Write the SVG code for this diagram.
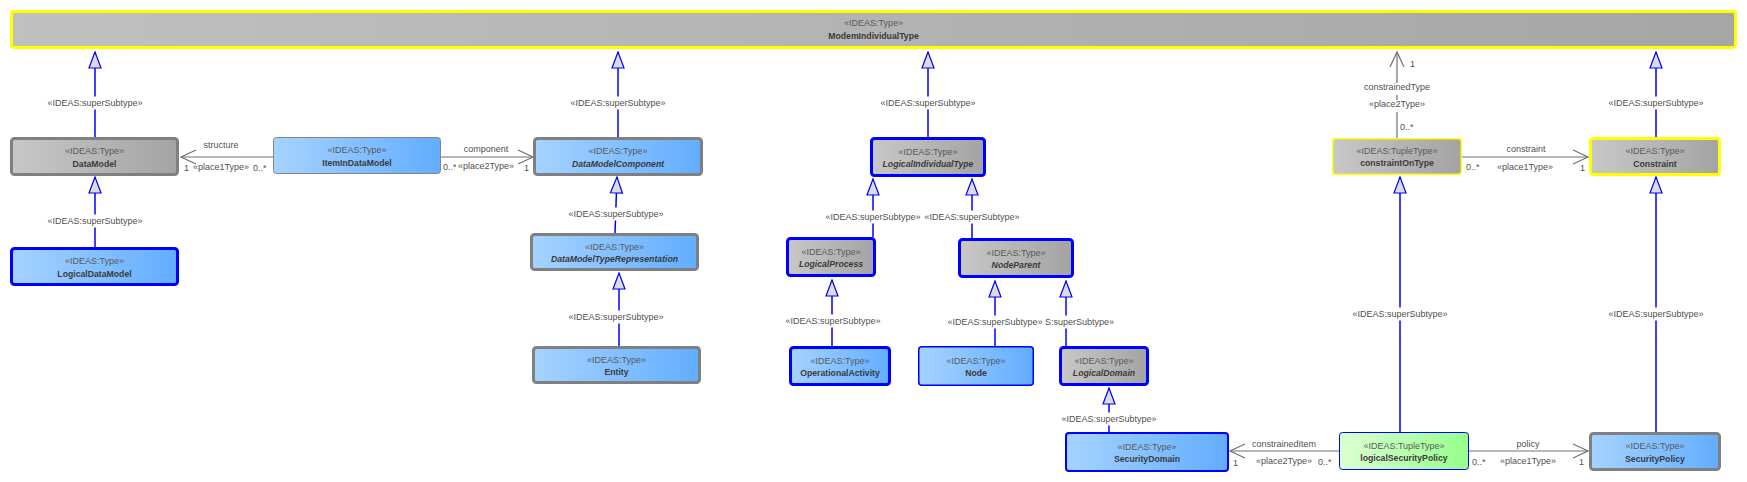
<svg xmlns="http://www.w3.org/2000/svg" width="1747" height="482" viewBox="0 0 1747 482">
<defs>
<linearGradient id="gBlue" x1="0" y1="0" x2="1" y2="0"><stop offset="0" stop-color="#a6d3ff"/><stop offset="1" stop-color="#62adff"/></linearGradient>
<linearGradient id="gGrey" x1="0" y1="0" x2="1" y2="0"><stop offset="0" stop-color="#c8c8c8"/><stop offset="1" stop-color="#a3a3a3"/></linearGradient>
<linearGradient id="gTop" x1="0" y1="0" x2="1" y2="0"><stop offset="0" stop-color="#c0c0c0"/><stop offset="1" stop-color="#a6a6a6"/></linearGradient>
<linearGradient id="gGreen" x1="0" y1="0" x2="1" y2="0"><stop offset="0" stop-color="#dcffd4"/><stop offset="1" stop-color="#96ff8c"/></linearGradient>
<marker id="gen" viewBox="-17 -7 18 14" refX="0" refY="0" markerWidth="18" markerHeight="14" orient="auto" markerUnits="userSpaceOnUse"><path d="M0,0 L-16,-6 L-16,6 Z" fill="#dcdcdc" stroke="#0000ff" stroke-width="1.2"/></marker>
<marker id="open" viewBox="-17 -8 19 16" refX="0" refY="0" markerWidth="19" markerHeight="16" orient="auto" markerUnits="userSpaceOnUse"><path d="M-15,-7 L0,0 L-15,7" fill="none" stroke="#707070" stroke-width="1.2"/></marker>
</defs>
<style>
text{font-family:"Liberation Sans",Arial,sans-serif;}
.st{font-size:9px;fill:#5a5a5a;text-anchor:middle;}
.nm{font-size:8.7px;font-weight:bold;fill:#3a3a3a;text-anchor:middle;}
.it{font-style:italic;}
.lb{font-size:9px;fill:#505050;}
.mid{text-anchor:middle;}
.end{text-anchor:end;}
.bg{fill:#ffffff;}
.gen{stroke:#0000ff;stroke-width:1.5;fill:none;marker-end:url(#gen);}
.asc{stroke:#707070;stroke-width:1.2;fill:none;marker-end:url(#open);}
.blue3{fill:url(#gBlue);stroke:#0000ff;stroke-width:3;}
.grey3b{fill:url(#gGrey);stroke:#0000ff;stroke-width:3;}
.bluegrey3{fill:url(#gBlue);stroke:#808080;stroke-width:3;}
.greygrey3{fill:url(#gGrey);stroke:#808080;stroke-width:3;}
</style>
<rect width="1747" height="482" fill="#ffffff"/>

<g id="connectors">
<line class="gen" x1="95" y1="137" x2="95" y2="52"/>
<line class="gen" x1="95" y1="247" x2="95" y2="177"/>
<line class="gen" x1="618" y1="137" x2="618" y2="52"/>
<line class="gen" x1="615" y1="233" x2="617" y2="177"/>
<line class="gen" x1="619" y1="346" x2="619" y2="273"/>
<line class="gen" x1="928" y1="137" x2="928" y2="52"/>
<line class="gen" x1="873" y1="237" x2="873" y2="179"/>
<line class="gen" x1="972" y1="238" x2="972" y2="179"/>
<line class="gen" x1="832" y1="346" x2="832" y2="280"/>
<line class="gen" x1="995" y1="346" x2="995" y2="281"/>
<line class="gen" x1="1066" y1="346" x2="1066" y2="281"/>
<line class="gen" x1="1109" y1="432" x2="1109" y2="388"/>
<line class="gen" x1="1656" y1="137" x2="1656" y2="52"/>
<line class="gen" x1="1400" y1="432" x2="1400" y2="177"/>
<line class="gen" x1="1656" y1="432" x2="1656" y2="177"/>
<line class="asc" x1="273" y1="157" x2="181" y2="157"/>
<line class="asc" x1="441" y1="157" x2="533" y2="157"/>
<line class="asc" x1="1397" y1="138" x2="1397" y2="52"/>
<line class="asc" x1="1462" y1="157" x2="1588" y2="157"/>
<line class="asc" x1="1339" y1="451" x2="1230" y2="451"/>
<line class="asc" x1="1469" y1="451" x2="1588" y2="451"/>

<g id="labels">
<rect class="bg" x="46" y="96.5" width="98" height="13"/><text class="lb mid" x="95" y="106">«IDEAS:superSubtype»</text>
<rect class="bg" x="46" y="214.5" width="98" height="13"/><text class="lb mid" x="95" y="224">«IDEAS:superSubtype»</text>
<rect class="bg" x="569" y="96.5" width="98" height="13"/><text class="lb mid" x="618" y="106">«IDEAS:superSubtype»</text>
<rect class="bg" x="567" y="207.5" width="98" height="13"/><text class="lb mid" x="616" y="217">«IDEAS:superSubtype»</text>
<rect class="bg" x="567" y="310.5" width="98" height="13"/><text class="lb mid" x="616" y="320">«IDEAS:superSubtype»</text>
<rect class="bg" x="879" y="96.5" width="98" height="13"/><text class="lb mid" x="928" y="106">«IDEAS:superSubtype»</text>
<rect class="bg" x="824" y="210.5" width="98" height="13"/><text class="lb mid" x="873" y="220">«IDEAS:superSubtype»</text>
<rect class="bg" x="923" y="210.5" width="98" height="13"/><text class="lb mid" x="972" y="220">«IDEAS:superSubtype»</text>
<rect class="bg" x="784" y="314.5" width="98" height="13"/><text class="lb mid" x="833" y="324">«IDEAS:superSubtype»</text>
<rect class="bg" x="1044" y="315.5" width="71" height="13"/><text class="lb end" x="1114" y="325">S:superSubtype»</text>
<rect class="bg" x="946" y="315.5" width="98" height="13"/><text class="lb mid" x="995" y="325">«IDEAS:superSubtype»</text>
<rect class="bg" x="1060" y="412.5" width="98" height="13"/><text class="lb mid" x="1109" y="422">«IDEAS:superSubtype»</text>
<rect class="bg" x="1607" y="96.5" width="98" height="13"/><text class="lb mid" x="1656" y="106">«IDEAS:superSubtype»</text>
<rect class="bg" x="1351" y="307.5" width="98" height="13"/><text class="lb mid" x="1400" y="317">«IDEAS:superSubtype»</text>
<rect class="bg" x="1607" y="307.5" width="98" height="13"/><text class="lb mid" x="1656" y="317">«IDEAS:superSubtype»</text>

<text class="lb mid" x="221" y="148">structure</text>
<text class="lb" x="184" y="171">1</text>
<text class="lb mid" x="221" y="170">«place1Type»</text>
<text class="lb" x="253" y="171">0..*</text>

<text class="lb mid" x="486" y="152">component</text>
<text class="lb" x="443" y="170">0..*</text>
<rect class="bg" x="456" y="162" width="60" height="11"/>
<text class="lb mid" x="486" y="169">«place2Type»</text>
<text class="lb" x="524" y="171">1</text>

<text class="lb" x="1410" y="67">1</text>
<rect class="bg" x="1361" y="83" width="72" height="12"/><text class="lb mid" x="1397" y="90">constrainedType</text>
<rect class="bg" x="1369" y="100" width="56" height="12"/><text class="lb mid" x="1397" y="107">«place2Type»</text>
<text class="lb" x="1400" y="130">0..*</text>

<text class="lb mid" x="1526" y="152">constraint</text>
<text class="lb" x="1466" y="170">0..*</text>
<text class="lb mid" x="1525" y="170">«place1Type»</text>
<text class="lb" x="1580" y="171">1</text>

<text class="lb mid" x="1284" y="447">constrainedItem</text>
<text class="lb" x="1233" y="466">1</text>
<text class="lb mid" x="1284" y="464">«place2Type»</text>
<text class="lb" x="1318" y="465">0..*</text>

<text class="lb mid" x="1528" y="447">policy</text>
<text class="lb" x="1472" y="465">0..*</text>
<text class="lb mid" x="1528" y="464">«place1Type»</text>
<text class="lb" x="1579" y="465">1</text>
</g>
</g>

<g id="ModemIndividualType">
<rect x="11.5" y="11.5" width="1724" height="36" rx="3" fill="url(#gTop)" stroke="#ffff00" stroke-width="3"/>
<text class="st" x="873.5" y="26">«IDEAS:Type»</text>
<text class="nm" x="873.5" y="39">ModemIndividualType</text>
</g>
<g id="DataModel">
<rect class="greygrey3" x="11.5" y="138.5" width="166" height="36" rx="3"/>
<text class="st" x="94.5" y="154">«IDEAS:Type»</text>
<text class="nm" x="94.5" y="166.5">DataModel</text>
</g>
<g id="ItemInDataModel">
<rect x="273.5" y="137.5" width="167" height="36" rx="3" fill="url(#gBlue)" stroke="#858585" stroke-width="1"/>
<text class="st" x="357" y="153">«IDEAS:Type»</text>
<text class="nm" x="357" y="165.5">ItemInDataModel</text>
</g>
<g id="DataModelComponent">
<rect class="bluegrey3" x="534.5" y="138.5" width="167" height="36" rx="3"/>
<text class="st" x="618" y="154">«IDEAS:Type»</text>
<text class="nm it" x="618" y="166.5">DataModelComponent</text>
</g>
<g id="DataModelTypeRepresentation">
<rect class="bluegrey3" x="531.5" y="234.5" width="166" height="35" rx="3"/>
<text class="st" x="614.5" y="249.5">«IDEAS:Type»</text>
<text class="nm it" x="614.5" y="262">DataModelTypeRepresentation</text>
</g>
<g id="Entity">
<rect class="bluegrey3" x="533.5" y="347.5" width="166" height="35" rx="3"/>
<text class="st" x="616.5" y="362.5">«IDEAS:Type»</text>
<text class="nm" x="616.5" y="375">Entity</text>
</g>
<g id="LogicalDataModel">
<rect class="blue3" x="11.5" y="248.5" width="166" height="36" rx="3"/>
<text class="st" x="94.5" y="264">«IDEAS:Type»</text>
<text class="nm" x="94.5" y="276.5">LogicalDataModel</text>
</g>
<g id="LogicalIndividualType">
<rect class="grey3b" x="871.5" y="138.5" width="113" height="37" rx="3"/>
<text class="st" x="928" y="154.5">«IDEAS:Type»</text>
<text class="nm it" x="928" y="167">LogicalIndividualType</text>
</g>
<g id="LogicalProcess">
<rect class="grey3b" x="787.5" y="238.5" width="87" height="37" rx="3"/>
<text class="st" x="831" y="254.5">«IDEAS:Type»</text>
<text class="nm it" x="831" y="267">LogicalProcess</text>
</g>
<g id="NodeParent">
<rect class="grey3b" x="959.5" y="239.5" width="113" height="37" rx="3"/>
<text class="st" x="1016" y="255.5">«IDEAS:Type»</text>
<text class="nm it" x="1016" y="268">NodeParent</text>
</g>
<g id="OperationalActivity">
<rect class="blue3" x="790.5" y="347.5" width="99" height="37" rx="3"/>
<text class="st" x="840" y="363.5">«IDEAS:Type»</text>
<text class="nm" x="840" y="376">OperationalActivity</text>
</g>
<g id="Node">
<rect x="918.75" y="346.75" width="114.5" height="38.5" rx="3" fill="url(#gBlue)" stroke="#0000ff" stroke-width="1.5"/>
<text class="st" x="976" y="363.5">«IDEAS:Type»</text>
<text class="nm" x="976" y="376">Node</text>
</g>
<g id="LogicalDomain">
<rect class="grey3b" x="1060.5" y="347.5" width="87" height="37" rx="3"/>
<text class="st" x="1104" y="363.5">«IDEAS:Type»</text>
<text class="nm it" x="1104" y="376">LogicalDomain</text>
</g>
<g id="SecurityDomain">
<rect x="1066" y="433" width="162" height="38" rx="3" fill="url(#gBlue)" stroke="#0000ff" stroke-width="2"/>
<text class="st" x="1147" y="449.5">«IDEAS:Type»</text>
<text class="nm" x="1147" y="462">SecurityDomain</text>
</g>
<g id="logicalSecurityPolicy">
<rect x="1339.5" y="432.5" width="129" height="37" rx="3" fill="url(#gGreen)" stroke="#0000ff" stroke-width="1"/>
<text class="st" x="1404" y="448.5">«IDEAS:TupleType»</text>
<text class="nm" x="1404" y="461">logicalSecurityPolicy</text>
</g>
<g id="SecurityPolicy">
<rect class="bluegrey3" x="1590.5" y="433.5" width="129" height="36" rx="3"/>
<text class="st" x="1655" y="449">«IDEAS:Type»</text>
<text class="nm" x="1655" y="461.5">SecurityPolicy</text>
</g>
<g id="constraintOnType">
<rect x="1332.75" y="138.75" width="128.5" height="35.5" rx="3" fill="url(#gGrey)" stroke="#ffff00" stroke-width="1.5"/>
<text class="st" x="1397" y="153.5">«IDEAS:TupleType»</text>
<text class="nm" x="1397" y="166">constraintOnType</text>
</g>
<g id="Constraint">
<rect x="1590.5" y="138.5" width="129" height="36" rx="3" fill="url(#gGrey)" stroke="#ffff00" stroke-width="3"/>
<text class="st" x="1655" y="154">«IDEAS:Type»</text>
<text class="nm" x="1655" y="166.5">Constraint</text>
</g>
</svg>
